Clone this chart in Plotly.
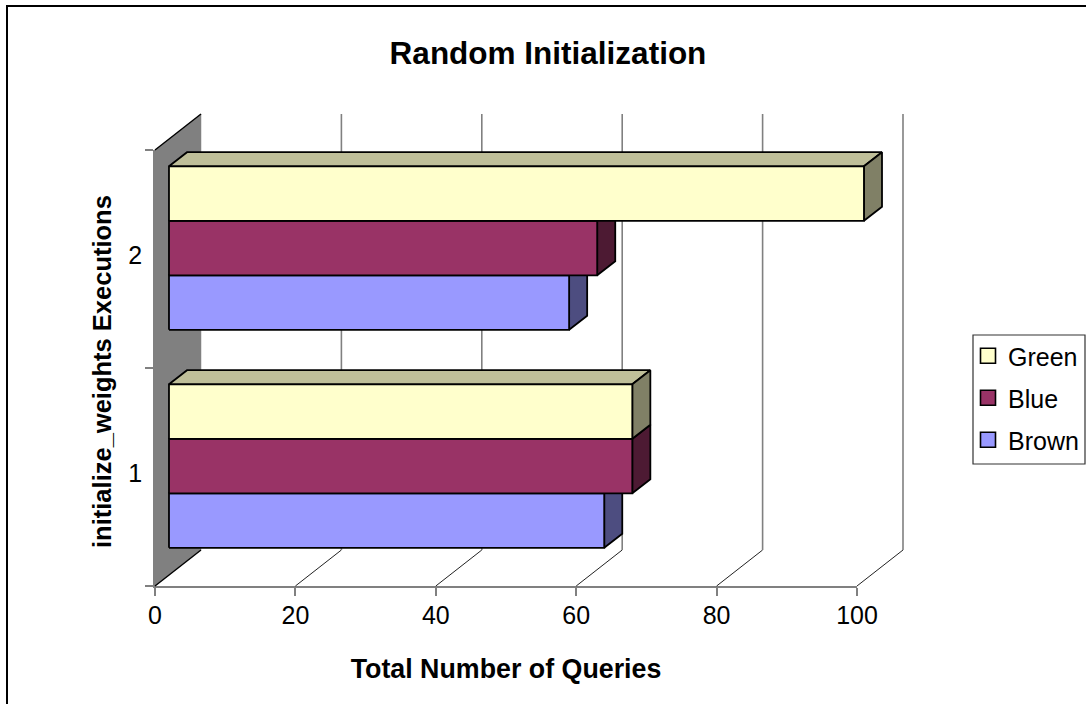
import plotly.graph_objects as go

categories = ["1", "2"]
series_names = ["Brown", "Blue", "Green"]
brown = [62, 57]
blue = [66, 61]
green = [66, 99]
tick_values = [0, 20, 40, 60, 80, 100]

front = {"Brown": "#9999FF", "Blue": "#993366", "Green": "#FFFFCC"}
top = {"Brown": "#7373BF", "Blue": "#73264D", "Green": "#BFBF99"}
side = {"Brown": "#4D4D80", "Blue": "#4D1A33", "Green": "#808066"}
values = {"Brown": brown, "Blue": blue, "Green": green}

W, H = 1086, 704
# outer drawing area (for the 3-D extruded faces)
L, R, T, B = 140, 0, 100, 100
PW, PH = W - L - R, H - T - B
# where the value axis and the category axis really sit, in page pixels
X0, X100, Y0, Y2 = 155, 857, 586, 150
ux = (X100 - X0) / 100
uy = (Y0 - Y2) / 2
DX, DY = 46 / ux, 36 / uy       # full depth of the floor in data units
D0, D1 = 0.304, 0.696           # bar depth span
GAP = 0.125
BAR = 0.25


def px(v):
    return (v - L) / PW


def py(v):
    return (H - B - v) / PH


def poly(fig, xs, ys, fill, lw=1.8, color="black"):
    fig.add_trace(go.Scatter(x=xs + xs[:1], y=ys + ys[:1], mode="lines", fill="toself",
                             fillcolor=fill, line=dict(color=color, width=lw),
                             xaxis="x2", yaxis="y2",
                             showlegend=False, hoverinfo="skip"))


def seg(fig, xs, ys, color, lw):
    fig.add_trace(go.Scatter(x=xs, y=ys, mode="lines", line=dict(color=color, width=lw),
                             xaxis="x2", yaxis="y2",
                             showlegend=False, hoverinfo="skip"))


fig = go.Figure()

# side wall
poly(fig, [0, DX, DX, 0], [0, DY, 2 + DY, 2], "#808080", 0.5, "#808080")
seg(fig, [0, DX], [0, DY], "black", 1.4)
seg(fig, [0, DX], [2, 2 + DY], "black", 1.4)

# gridlines: floor diagonal + back wall vertical
for v in tick_values[1:]:
    seg(fig, [v, v + DX], [0, DY], "#222222", 1)
    seg(fig, [v + DX, v + DX], [DY, 2 + DY], "#808080", 1.6)

# bars
for c in range(len(categories)):
    for s, name in enumerate(series_names):
        v = values[name][c]
        x0 = D0 * DX
        x1 = x0 + v
        y0 = c + GAP + s * BAR + D0 * DY
        y1 = y0 + BAR
        ox = (D1 - D0) * DX
        oy = (D1 - D0) * DY
        poly(fig, [x0, x0 + ox, x1 + ox, x1], [y1, y1 + oy, y1 + oy, y1], top[name])
        poly(fig, [x1, x1 + ox, x1 + ox, x1], [y0, y0 + oy, y1 + oy, y1], side[name])
        poly(fig, [x0, x1, x1, x0], [y0, y0, y1, y1], front[name])

# legend entries
for name in reversed(series_names):
    fig.add_trace(go.Scatter(x=[None], y=[None], mode="markers", name=name, legendgroup=name,
                             marker=dict(symbol="square", size=15, color=front[name],
                                         line=dict(color="black", width=1.6))))

FONT = "Liberation Sans, Arial, sans-serif"
fig.update_layout(
    width=W, height=H,
    margin=dict(l=L, r=R, t=T, b=B, pad=0, autoexpand=False),
    paper_bgcolor="white", plot_bgcolor="rgba(0,0,0,0)",
    font=dict(family=FONT, color="black", size=25),
    title=dict(text="<b>Random Initialization</b>", x=548 / W, xanchor="center",
               y=1 - 53 / H, yanchor="middle", font=dict(size=31.5)),
    showlegend=True,
    legend=dict(x=px(968), xanchor="left", y=py(333), yanchor="top",
                bgcolor="rgba(0,0,0,0)", borderwidth=0, traceorder="grouped",
                font=dict(size=25), tracegroupgap=6.5),
    xaxis=dict(domain=[px(X0), px(X100)], range=[0, 100], tickmode="array", tickvals=tick_values,
               showgrid=False, zeroline=False, showline=True, linecolor="#808080", linewidth=1.6,
               ticks="outside", ticklen=8, tickcolor="#808080", tickwidth=1.6,
               tickfont=dict(size=25), fixedrange=True, ticklabelstandoff=-2,
               title=dict(text="<b>Total Number of Queries</b>", font=dict(size=26.8), standoff=31)),
    yaxis=dict(domain=[py(Y0), py(Y2)], range=[0, 2], tickmode="array", tickvals=[0.515, 1.515],
               ticktext=categories,
               showgrid=False, zeroline=False, showline=True, linecolor="#808080", linewidth=1.6,
               ticks="", tickfont=dict(size=25), fixedrange=True, ticklabelstandoff=6,
               minor=dict(tickmode="array", tickvals=[0, 1, 2], ticks="outside", ticklen=8,
                          tickcolor="#808080", tickwidth=1.6, showgrid=False),
               title=dict(text="<b>initialize_weights Executions\u00a0</b>", font=dict(size=25.5), standoff=9)),
    xaxis2=dict(domain=[0, 1], anchor="y2", visible=False, fixedrange=True,
                range=[(L - X0) / ux, (W - R - X0) / ux]),
    yaxis2=dict(domain=[0, 1], anchor="x2", visible=False, fixedrange=True,
                range=[(Y0 - (H - B)) / uy, (Y0 - T) / uy]),
    shapes=[
        dict(type="rect", xref="paper", yref="paper", layer="below",
             x0=px(7), x1=px(1200), y0=py(800), y1=py(6),
             line=dict(color="black", width=2), fillcolor="white"),
        dict(type="rect", xref="paper", yref="paper", layer="below",
             x0=px(973), x1=px(1085), y0=py(464), y1=py(335),
             line=dict(color="#333333", width=1.2), fillcolor="white"),
    ],
)

fig.write_html("out.html", config=dict(displayModeBar=False),
               post_script="document.body.style.margin='0';")
